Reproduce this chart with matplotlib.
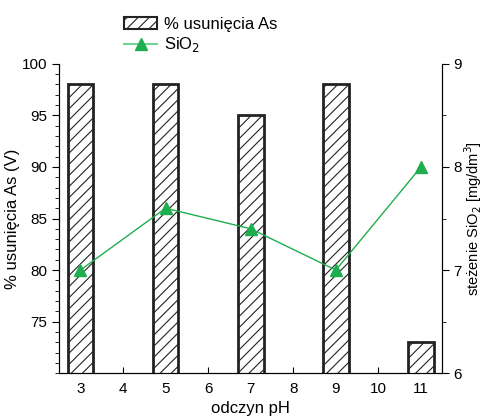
import numpy as np
import matplotlib.pyplot as plt
from matplotlib.ticker import MultipleLocator
from matplotlib.lines import Line2D
from matplotlib.patches import Patch

plt.rcParams['font.family'] = ['Liberation Sans', 'DejaVu Sans']
plt.rcParams['hatch.linewidth'] = 0.8

ph = [3, 5, 7, 9, 11]
as_removal = [98, 98, 95, 98, 73]
sio2 = [7.0, 7.6, 7.4, 7.0, 8.0]

green = '#1fae4f'

fig = plt.figure(figsize=(4.85, 4.17), dpi=100)
ax = fig.add_axes([0.122, 0.105, 0.79, 0.742])
ax.bar(ph, as_removal, width=0.6, color='white', edgecolor='#222222',
       linewidth=2, hatch='///', zorder=2)
ax.set_xlim(2.5, 11.5)
ax.set_ylim(70, 100)
ax.yaxis.set_minor_locator(MultipleLocator(1))
ax.set_yticks([75, 80, 85, 90, 95, 100])
ax.set_xticks(range(3, 12))
ax.tick_params(axis='x', direction='in', length=4, labelsize=11, pad=6)
ax.tick_params(axis='y', which='major', direction='out', length=5, labelsize=11)
ax.tick_params(axis='y', which='minor', direction='out', length=3)
ax.spines['top'].set_visible(False)
ax.set_xlabel('odczyn pH', fontsize=12)
ax.set_ylabel('% usunięcia As (V)', fontsize=12, labelpad=1)

ax2 = ax.twinx()
ax2.plot(ph, sio2, color=green, linewidth=1, marker='^', markersize=8,
         markeredgecolor=green, zorder=3)
ax2.set_ylim(6, 9)
ax2.set_yticks([6, 7, 8, 9])
ax2.yaxis.set_minor_locator(MultipleLocator(0.5))
ax2.tick_params(axis='y', which='major', direction='out', length=5, labelsize=11, pad=3)
ax2.tick_params(axis='y', which='minor', direction='out', length=3)
ax2.spines['top'].set_visible(False)
ax2.set_ylabel('steżenie SiO$_2$ [mg/dm$^3$]', fontsize=10.5, labelpad=0)

handles = [Patch(facecolor='white', edgecolor='#222222', hatch='///', linewidth=1.5),
           Line2D([], [], color='#6fd494', marker='^', markersize=8,
                  markerfacecolor=green, markeredgecolor=green, linewidth=1.5)]
fig.legend(handles, ['% usunięcia As', 'SiO$_2$'], loc='upper left',
           bbox_to_anchor=(0.225, 0.995), frameon=False, fontsize=12,
           handlelength=2.0, labelspacing=0.2, handletextpad=0.4)

fig.savefig('out.png', dpi=100)
